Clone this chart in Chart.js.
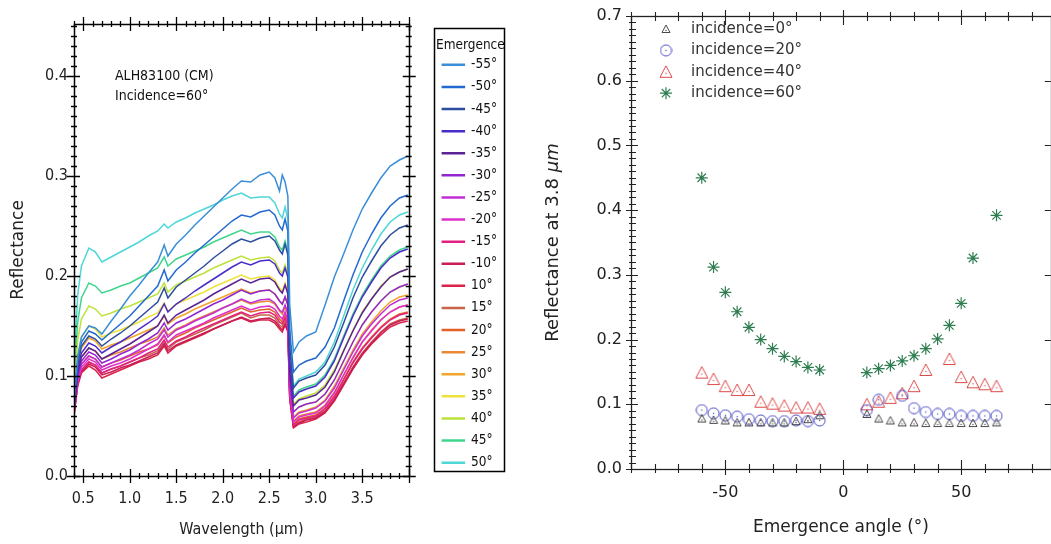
<!DOCTYPE html>
<html>
<head>
<meta charset="utf-8">
<script src="https://cdn.jsdelivr.net/npm/chart.js@4.4.1/dist/chart.umd.min.js"></script>
<style>
  html, body { margin: 0; padding: 0; background: #fff; overflow: hidden; }
  #leftBox { position: absolute; left: 0; top: 0; width: 520px; height: 544px; }
  #rightBox { position: absolute; left: 530px; top: 0; width: 528px; height: 544px; }
</style>
</head>
<body>
<div id="leftBox"><canvas id="spectra"></canvas></div>
<div id="rightBox"><canvas id="angles"></canvas></div>
<script>
// ---- left panel: spectra at incidence 60 deg ----
const WAVELENGTH = [0.40, 0.44, 0.48, 0.56, 0.63, 0.70, 0.80, 0.90, 1.00, 1.10, 1.20, 1.30, 1.37, 1.41, 1.50,
  1.60, 1.70, 1.80, 1.90, 2.00, 2.10, 2.20, 2.30, 2.40, 2.50, 2.56, 2.61, 2.64, 2.67, 2.70, 2.72, 2.76,
  2.82, 2.90, 3.00, 3.10, 3.20, 3.30, 3.40, 3.50, 3.60, 3.70, 3.80, 3.90, 3.99];

const EMERGENCE = [-55, -50, -45, -40, -35, -30, -25, -20, -15, -10, 10, 15, 20, 25, 30, 35, 40, 45, 50];

const R_M55 = [.075,.120,.139,.150,.148,.142,.155,.167,.180,.191,.203,.214,.231,.220,.232,.241,.251,.260,.269,.278,.287,.295,.294,.301,.304,.298,.285,.301,.294,.280,.171,.124,.134,.140,.144,.171,.199,.222,.246,.267,.283,.298,.310,.316,.320];
const R_M50 = [.072,.116,.134,.145,.142,.136,.144,.152,.160,.170,.180,.190,.206,.195,.206,.214,.223,.231,.239,.247,.255,.261,.259,.264,.266,.261,.250,.246,.257,.245,.146,.104,.111,.115,.118,.129,.148,.175,.201,.224,.242,.258,.270,.278,.281];
const R_M45 = [.070,.112,.130,.140,.137,.130,.137,.143,.150,.158,.166,.174,.188,.178,.189,.196,.203,.210,.218,.225,.232,.237,.234,.238,.240,.235,.226,.222,.232,.221,.128,.088,.095,.098,.101,.111,.129,.153,.178,.199,.215,.230,.241,.248,.251];
const R_M40 = [.068,.107,.123,.133,.130,.123,.129,.134,.140,.147,.153,.160,.172,.164,.172,.178,.185,.191,.197,.203,.209,.214,.211,.215,.216,.212,.203,.200,.208,.199,.114,.078,.084,.087,.090,.099,.115,.138,.160,.179,.194,.208,.218,.224,.227];
const R_M35 = [.066,.103,.119,.128,.125,.117,.122,.127,.132,.138,.144,.150,.161,.153,.161,.166,.171,.176,.182,.187,.192,.197,.193,.197,.198,.194,.186,.183,.191,.182,.104,.070,.076,.078,.081,.089,.104,.125,.145,.163,.177,.189,.199,.204,.207];
const R_M30 = [.065,.100,.115,.124,.121,.113,.117,.122,.126,.132,.137,.143,.153,.146,.153,.157,.162,.167,.172,.176,.181,.186,.182,.185,.186,.182,.175,.172,.179,.171,.096,.064,.069,.072,.074,.082,.096,.115,.134,.151,.164,.175,.184,.189,.192];
const R_M25 = [.064,.098,.112,.120,.117,.109,.113,.117,.121,.126,.132,.137,.146,.139,.146,.150,.155,.159,.163,.168,.172,.177,.173,.176,.177,.173,.166,.164,.171,.163,.090,.058,.063,.065,.068,.075,.088,.106,.124,.140,.152,.162,.171,.176,.178];
const R_M20 = [.063,.095,.109,.117,.114,.106,.110,.113,.117,.122,.127,.132,.141,.134,.141,.145,.149,.153,.158,.162,.166,.170,.166,.169,.170,.167,.160,.157,.164,.156,.085,.054,.059,.061,.063,.070,.083,.101,.118,.134,.145,.156,.164,.169,.171];
const R_M15 = [.062,.093,.106,.114,.111,.103,.107,.110,.114,.118,.123,.127,.136,.129,.135,.139,.144,.148,.152,.156,.160,.164,.160,.163,.164,.161,.154,.152,.158,.151,.081,.051,.056,.058,.060,.067,.079,.096,.113,.127,.138,.148,.156,.161,.163];
const R_M10 = [.061,.092,.104,.112,.109,.101,.104,.108,.111,.115,.119,.123,.132,.125,.131,.135,.139,.143,.147,.151,.155,.159,.155,.157,.158,.155,.149,.146,.152,.145,.078,.049,.053,.056,.058,.064,.076,.092,.108,.122,.133,.143,.151,.155,.157];
const R_P10 = [.060,.090,.103,.110,.106,.098,.102,.106,.110,.114,.117,.121,.130,.123,.130,.134,.138,.142,.147,.151,.155,.158,.154,.156,.156,.153,.147,.144,.151,.144,.077,.048,.052,.054,.057,.063,.075,.091,.107,.121,.132,.141,.149,.153,.155];
const R_P15 = [.062,.093,.106,.114,.111,.103,.107,.110,.114,.118,.121,.125,.134,.127,.134,.138,.142,.146,.151,.155,.159,.163,.158,.161,.161,.158,.151,.149,.155,.148,.079,.050,.054,.057,.059,.065,.077,.093,.109,.123,.134,.144,.152,.156,.158];
const R_P20 = [.065,.098,.112,.120,.117,.109,.113,.116,.120,.124,.127,.131,.140,.133,.139,.143,.148,.152,.156,.160,.164,.168,.164,.166,.167,.164,.157,.154,.161,.154,.083,.052,.057,.059,.061,.068,.080,.097,.114,.128,.139,.149,.157,.162,.164];
const R_P25 = [.068,.104,.119,.128,.125,.117,.121,.124,.128,.132,.135,.139,.148,.141,.147,.151,.156,.160,.164,.168,.172,.176,.172,.174,.175,.172,.165,.162,.169,.161,.087,.055,.060,.062,.064,.071,.084,.101,.119,.134,.146,.156,.164,.169,.171];
const R_P30 = [.072,.112,.128,.138,.135,.127,.131,.134,.138,.142,.146,.150,.160,.152,.158,.162,.167,.171,.175,.179,.183,.187,.183,.185,.186,.182,.175,.172,.179,.171,.093,.059,.064,.066,.069,.076,.090,.108,.126,.142,.154,.165,.174,.179,.181];
const R_P35 = [.078,.121,.139,.150,.147,.139,.143,.146,.150,.154,.159,.163,.173,.165,.172,.176,.180,.184,.189,.193,.197,.201,.197,.199,.200,.196,.188,.185,.193,.184,.100,.064,.069,.072,.074,.082,.096,.115,.134,.151,.164,.175,.184,.189,.192];
const R_P40 = [.085,.136,.157,.170,.167,.160,.163,.167,.170,.174,.178,.182,.193,.184,.191,.195,.199,.203,.208,.212,.216,.220,.216,.218,.219,.215,.206,.203,.211,.201,.111,.072,.077,.080,.083,.091,.106,.126,.146,.164,.177,.190,.199,.204,.207];
const R_P45 = [.095,.154,.178,.193,.190,.183,.186,.190,.193,.198,.203,.208,.219,.210,.217,.221,.225,.229,.234,.238,.242,.246,.242,.244,.244,.239,.229,.226,.235,.224,.123,.080,.086,.089,.092,.101,.117,.140,.162,.181,.196,.210,.220,.226,.229];
const R_P50 = [.110,.181,.210,.228,.224,.214,.219,.224,.229,.234,.240,.245,.252,.248,.254,.258,.263,.267,.271,.276,.280,.283,.278,.279,.279,.273,.262,.258,.269,.257,.140,.090,.097,.100,.104,.114,.134,.160,.186,.208,.226,.242,.254,.261,.264];

const SPECTRA = [R_M55, R_M50, R_M45, R_M40, R_M35, R_M30, R_M25, R_M20, R_M15, R_M10,
  R_P10, R_P15, R_P20, R_P25, R_P30, R_P35, R_P40, R_P45, R_P50];

const X_TICKS_L = [0.5, 1.0, 1.5, 2.0, 2.5, 3.0, 3.5];
const Y_TICKS_L = [0.0, 0.1, 0.2, 0.3, 0.4];

// ---- right panel: reflectance at 3.8 um vs emergence ----
const ANGLES = [-60, -55, -50, -45, -40, -35, -30, -25, -20, -15, -10, 10, 15, 20, 25, 30, 35, 40, 45, 50, 55, 60, 65];
const INC0  = [0.078, 0.076, 0.075, 0.072, 0.072, 0.072, 0.072, 0.072, 0.074, 0.077, 0.083, 0.085, 0.078, 0.075, 0.072, 0.072, 0.071, 0.071, 0.071, 0.071, 0.071, 0.071, 0.072];
const INC20 = [0.091, 0.086, 0.083, 0.081, 0.077, 0.075, 0.074, 0.074, 0.075, 0.074, 0.075, 0.091, 0.107, null, 0.113, 0.094, 0.088, 0.085, 0.085, 0.082, 0.082, 0.082, 0.082];
const INC40 = [0.149, 0.139, 0.128, 0.122, 0.122, 0.104, 0.101, 0.098, 0.095, 0.095, 0.093, 0.100, 0.104, 0.110, 0.117, 0.128, 0.153, null, 0.170, 0.142, 0.134, 0.131, 0.128];
const INC60 = [0.450, 0.312, 0.273, 0.243, 0.219, 0.200, 0.186, 0.174, 0.166, 0.157, 0.153, 0.149, 0.155, 0.160, 0.167, 0.175, 0.186, 0.201, 0.222, 0.256, 0.326, null, 0.392];
const INC_LABELS = ['incidence=0°', 'incidence=20°', 'incidence=40°', 'incidence=60°'];

const X_TICKS_R = [-50, 0, 50];
const Y_TICKS_R = [0.0, 0.1, 0.2, 0.3, 0.4, 0.5, 0.6, 0.7];

// styles
const LINE_COLORS = ['#3b8fd8', '#2469cf', '#2d4d9e', '#4a2cc8', '#5b2396', '#9226cf', '#c22ed6', '#dd2fcc', '#e3207f', '#c81d55',
  '#d9234b', '#c8644a', '#e2622a', '#e98934', '#f2a52a', '#efe23c', '#bde23a', '#3fd68c', '#4fd6d6'];
const NARROW = "'Liberation Sans Narrow', 'Arial Narrow', 'DejaVu Sans Condensed', sans-serif";
const WIDE = "'DejaVu Sans', Verdana, sans-serif";

const noPad = (s) => { s.paddingLeft = 0; s.paddingRight = 0; s.paddingTop = 0; s.paddingBottom = 0; };

// box frame with minor/major ticks on every side
const frameTicks = {
  id: 'frameTicks',
  afterDraw(chart, args, o) {
    const { ctx, chartArea: a, scales } = chart;
    const sx = scales.x, sy = scales.y;
    const each = (min, max, step, fn) => {
      for (let i = Math.ceil(min / step - 1e-6); i * step <= max + 1e-6; i++) fn(i * step);
    };
    const isMajor = (v, step) => Math.abs(v / step - Math.round(v / step)) < 1e-6;
    ctx.save();
    ctx.strokeStyle = o.color;
    ctx.lineWidth = o.tickWidth;
    ctx.beginPath();
    each(sx.min, sx.max, o.xMinor, (v) => {
      const px = Math.round(sx.getPixelForValue(v)) + 0.5;
      const maj = isMajor(v, o.xMajor);
      const b = maj ? o.bottom.major : o.bottom.minor;
      const t = maj ? o.top.major : o.top.minor;
      if (b) { ctx.moveTo(px, a.bottom + b[1]); ctx.lineTo(px, a.bottom - b[0]); }
      if (t) { ctx.moveTo(px, a.top - t[1]); ctx.lineTo(px, a.top + t[0]); }
    });
    each(sy.min, sy.max, o.yMinor, (v) => {
      const py = Math.round(sy.getPixelForValue(v)) + 0.5;
      const maj = isMajor(v, o.yMajor);
      const l = maj ? o.left.major : o.left.minor;
      const r = maj ? o.right.major : o.right.minor;
      if (l) { ctx.moveTo(a.left - l[1], py); ctx.lineTo(a.left + l[0], py); }
      if (r) { ctx.moveTo(a.right + r[1], py); ctx.lineTo(a.right - r[0], py); }
    });
    ctx.stroke();
    ctx.lineWidth = o.lineWidth;
    ctx.strokeRect(Math.round(a.left) + 0.5, Math.round(a.top) + 0.5, Math.round(a.right - a.left), Math.round(a.bottom - a.top));
    ctx.restore();
  }
};

const legendBorder = {
  id: 'legendBorder',
  afterDraw(chart) {
    const lg = chart.legend;
    if (!lg || !lg.legendHitBoxes || !lg.legendHitBoxes.length) return;
    const last = lg.legendHitBoxes[lg.legendHitBoxes.length - 1];
    const ctx = chart.ctx;
    const top = Math.round(lg.top + 4) + 0.5;
    ctx.save();
    ctx.strokeStyle = '#000';
    ctx.lineWidth = 1.5;
    ctx.strokeRect(Math.round(lg.left) + 0.5, top, Math.round(lg.width) - 3, Math.round(last.top + last.height + 2 - top));
    ctx.restore();
  }
};

const sampleText = {
  id: 'sampleText',
  afterDraw(chart) {
    const { ctx, chartArea: a } = chart;
    ctx.save();
    ctx.fillStyle = '#111';
    ctx.font = '14px ' + NARROW;
    ctx.textBaseline = 'middle';
    ctx.fillText('ALH83100 (CM)', a.left + 41, a.top + 52);
    ctx.fillText('Incidence=60°', a.left + 41, a.top + 72);
    ctx.restore();
  }
};

new Chart(document.getElementById('spectra').getContext('2d'), {
  type: 'line',
  data: {
    datasets: EMERGENCE.map((e, i) => ({
      label: e + '°',
      data: WAVELENGTH.map((w, j) => ({ x: w, y: SPECTRA[i][j] })),
      borderColor: LINE_COLORS[i],
      backgroundColor: LINE_COLORS[i],
      borderWidth: 1.5,
      pointRadius: 0,
      fill: false,
      tension: 0
    }))
  },
  options: {
    responsive: true,
    maintainAspectRatio: false,
    animation: false,
    events: [],
    layout: { padding: { top: 24, right: 13, bottom: 0, left: 0 } },
    scales: {
      x: {
        type: 'linear', position: 'bottom', min: 0.4, max: 4.0,
        afterBuildTicks: (s) => { s.ticks = X_TICKS_L.map(v => ({ value: v })); },
        afterFit: (s) => { s.height = 68; noPad(s); },
        grid: { display: false, drawTicks: true, tickLength: 6 },
        border: { display: false },
        ticks: { padding: 7, color: '#222', maxRotation: 0, font: { family: NARROW, size: 16 }, callback: v => v.toFixed(1) },
        title: { display: true, text: 'Wavelength (µm)', color: '#222', font: { family: NARROW, size: 16 }, padding: { top: 0, bottom: 5 } }
      },
      y: {
        min: 0, max: 0.452,
        afterBuildTicks: (s) => { s.ticks = Y_TICKS_L.map(v => ({ value: v })); },
        afterFit: (s) => { s.width = 74; noPad(s); },
        grid: { display: false, drawTicks: true, tickLength: 3 },
        border: { display: false },
        ticks: { padding: 3, color: '#222', font: { family: NARROW, size: 16 }, callback: v => v.toFixed(1) },
        title: { display: true, text: 'Reflectance', color: '#222', font: { family: WIDE, size: 17 }, padding: { top: 8, bottom: 0 } }
      },
      yR: {
        position: 'right', display: true,
        afterFit: (s) => { s.width = 25; noPad(s); },
        grid: { display: false }, border: { display: false }, ticks: { display: false }
      }
    },
    plugins: {
      tooltip: { enabled: false },
      legend: {
        position: 'right', align: 'start',
        labels: { boxWidth: 22, boxHeight: 1, padding: 8.6, color: '#111', font: { family: NARROW, size: 13.5 } },
        title: { display: true, text: 'Emergence', color: '#111', font: { family: NARROW, size: 13.5, lineHeight: 1 }, padding: { top: 15, bottom: -3 } }
      },
      frameTicks: {
        color: '#000', lineWidth: 1.5, tickWidth: 1.3,
        xMinor: 0.1, xMajor: 0.5, yMinor: 0.01, yMajor: 0.1,
        bottom: { minor: [3, 3], major: [7, 7] }, top: { minor: [3, 3], major: [7, 7] },
        left: { minor: [3, 3], major: [6, 7] }, right: { minor: [3, 3], major: [6, 7] }
      }
    }
  },
  plugins: [frameTicks, legendBorder, sampleText]
});

// marker images for the right panel
function markerCanvas(shape, size, color) {
  const c = document.createElement('canvas');
  c.width = size; c.height = size;
  const g = c.getContext('2d');
  const m = size / 2;
  g.strokeStyle = color; g.fillStyle = color; g.lineWidth = 1;
  g.beginPath();
  if (shape === 'circle') {
    g.arc(m, m, m - 1, 0, Math.PI * 2);
  } else {
    g.moveTo(m, 1); g.lineTo(size - 1, size - 1.5); g.lineTo(1, size - 1.5); g.closePath();
  }
  g.stroke();
  g.fillRect(m - 0.6, (shape === 'circle' ? m : m + 1.5) - 0.6, 1.2, 1.2);
  return c;
}
const MARK_TRI_GRAY = markerCanvas('triangle', 10, '#4a4a4a');
const MARK_CIRCLE = markerCanvas('circle', 13, '#4848c4');
const MARK_TRI_RED = markerCanvas('triangle', 14, '#dc4a4a');

function drawStar(ctx, x, y, r, color) {
  ctx.save();
  ctx.strokeStyle = color; ctx.lineWidth = 1.2;
  ctx.beginPath();
  for (let k = 0; k < 4; k++) {
    const ang = k * Math.PI / 4;
    ctx.moveTo(x - r * Math.cos(ang), y - r * Math.sin(ang));
    ctx.lineTo(x + r * Math.cos(ang), y + r * Math.sin(ang));
  }
  ctx.stroke();
  ctx.restore();
}

const angleLegend = {
  id: 'angleLegend',
  afterDraw(chart) {
    const { ctx, chartArea: a } = chart;
    ctx.save();
    ctx.font = '15px ' + WIDE;
    ctx.fillStyle = '#333';
    ctx.textBaseline = 'middle';
    chart.data.datasets.forEach((ds, i) => {
      const y = a.top + 13 + i * 21.4;
      const x = a.left + 35;
      if (ds.pointStyle === 'star') drawStar(ctx, x, y, 6, ds.pointBorderColor);
      else ctx.drawImage(ds.pointStyle, x - ds.pointStyle.width / 2, y - ds.pointStyle.height / 2);
      ctx.fillText(ds.label, a.left + 60, y);
    });
    ctx.restore();
  }
};

// y title with italic unit
const angleYTitle = {
  id: 'angleYTitle',
  afterDraw(chart) {
    const { ctx, chartArea: a } = chart;
    const plain = 'Reflectance at 3.8 ';
    const unit = 'µm';
    ctx.save();
    ctx.translate(23, (a.top + a.bottom) / 2);
    ctx.rotate(-Math.PI / 2);
    ctx.fillStyle = '#222';
    ctx.textBaseline = 'middle';
    ctx.font = '18px ' + WIDE;
    const w1 = ctx.measureText(plain).width;
    ctx.font = 'italic 18px ' + WIDE;
    const w2 = ctx.measureText(unit).width;
    const x0 = -(w1 + w2) / 2;
    ctx.font = '18px ' + WIDE;
    ctx.fillText(plain, x0, 0);
    ctx.font = 'italic 18px ' + WIDE;
    ctx.fillText(unit, x0 + w1, 0);
    ctx.restore();
  }
};

const toPoints = (vals) => ANGLES.map((e, i) => ({ x: e, y: vals[i] })).filter(p => p.y !== null);

new Chart(document.getElementById('angles').getContext('2d'), {
  type: 'scatter',
  data: {
    datasets: [
      { label: INC_LABELS[0], data: toPoints(INC0), pointStyle: MARK_TRI_GRAY },
      { label: INC_LABELS[1], data: toPoints(INC20), pointStyle: MARK_CIRCLE },
      { label: INC_LABELS[2], data: toPoints(INC40), pointStyle: MARK_TRI_RED },
      { label: INC_LABELS[3], data: toPoints(INC60), pointStyle: 'star', pointRadius: 6, pointBorderWidth: 1.2, pointBorderColor: '#2e7d50', pointBackgroundColor: 'rgba(0,0,0,0)' }
    ]
  },
  options: {
    responsive: true,
    maintainAspectRatio: false,
    animation: false,
    events: [],
    layout: { padding: { top: 16, right: 1, bottom: 0, left: 0 } },
    scales: {
      x: {
        type: 'linear', min: -90, max: 88,
        afterBuildTicks: (s) => { s.ticks = X_TICKS_R.map(v => ({ value: v })); },
        afterFit: (s) => { s.height = 75; noPad(s); },
        grid: { display: false, drawTicks: true, tickLength: 6 },
        border: { display: false },
        ticks: { padding: 8, color: '#222', maxRotation: 0, font: { family: WIDE, size: 16 }, callback: v => String(v) },
        title: { display: true, text: 'Emergence angle (°)', color: '#222', font: { family: WIDE, size: 17 }, padding: { top: 0, bottom: 6 } }
      },
      y: {
        min: 0, max: 0.7,
        afterBuildTicks: (s) => { s.ticks = Y_TICKS_R.map(v => ({ value: v })); },
        afterFit: (s) => { s.width = 101; noPad(s); },
        grid: { display: false, drawTicks: true, tickLength: 5 },
        border: { display: false },
        ticks: { padding: 4, color: '#222', font: { family: WIDE, size: 16 }, callback: v => v.toFixed(1) },
        title: { display: false }
      }
    },
    plugins: {
      tooltip: { enabled: false },
      legend: { display: false },
      frameTicks: {
        color: '#222', lineWidth: 1.3, tickWidth: 1.1,
        xMinor: 10, xMajor: 50, yMinor: 0.01, yMajor: 0.1,
        bottom: { minor: [5, 4], major: [9, 6] }, top: { minor: [5, 4], major: [9, 6] },
        left: { minor: [5, 2], major: [7, 5] }, right: { minor: null, major: [6, 0] }
      }
    }
  },
  plugins: [frameTicks, angleLegend, angleYTitle]
});
</script>
</body>
</html>
